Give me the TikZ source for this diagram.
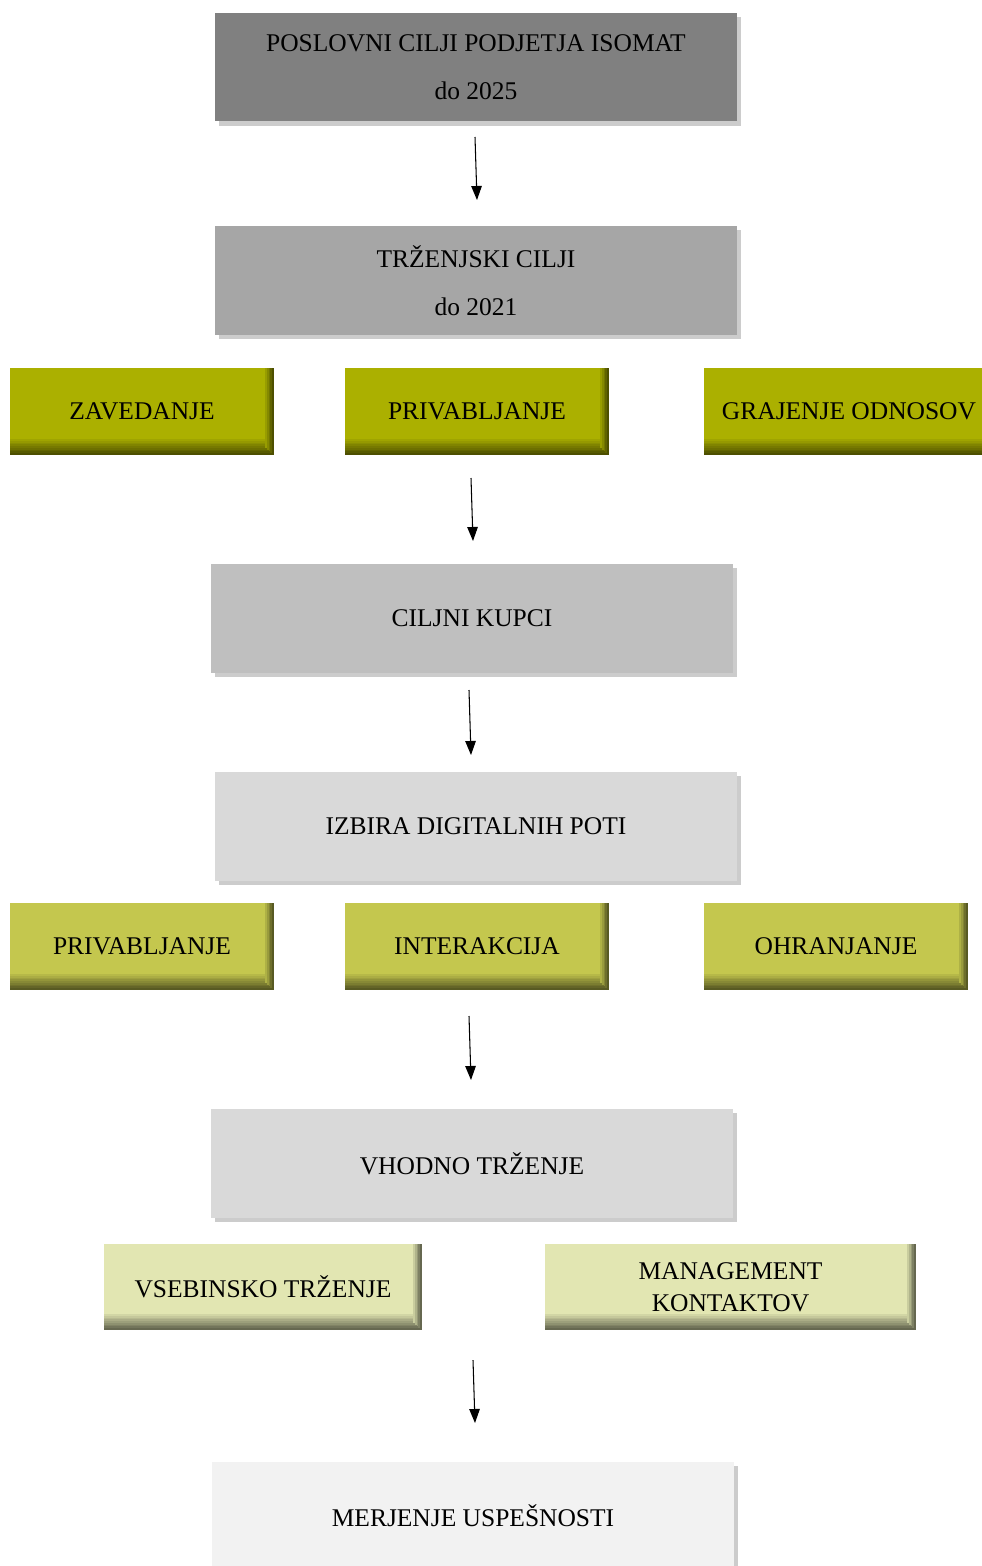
\documentclass[tikz,border=0pt]{standalone}
\usepackage{fontspec}
\setmainfont{Liberation Serif}
\usepackage{xcolor}
\usepackage{tikz}
\usetikzlibrary{positioning,shadows,arrows.meta}
\definecolor{olivedark}{RGB}{171,176,0}
\definecolor{olivemid}{RGB}{196,199,78}
\definecolor{olivelight}{RGB}{226,230,178}
\tikzset{
    box/.style={rectangle, inner sep=0pt, align=center, text=black, font=\fontsize{14.5}{18}\selectfont},
    graybox/.style={box, fill=#1, minimum width=10.44cm, minimum height=2.18cm,
        drop shadow={shadow xshift=2.5pt, shadow yshift=-2.5pt, opacity=0.4}},
    % bevel: darker steps along the bottom and the right edge
    bevelbox/.style={box, fill=#1, minimum height=1.74cm,
        path picture={
            \foreach \k [evaluate=\k as \p using int(45+6*(\k-1))] in {1,...,9}
                \fill[#1!\p!black] ([yshift=\k pt]path picture bounding box.south west)
                    rectangle ([yshift=\k pt-1pt]path picture bounding box.south east);
            \foreach \k [evaluate=\k as \p using int(45+11*(\k-1))] in {1,...,5}
                \fill[#1!\p!black] ([xshift=-\k pt]path picture bounding box.north east)
                    rectangle ([xshift=-\k pt+1pt, yshift=\k pt-1pt]path picture bounding box.south east);
        }},
    flow/.style={-{Triangle[width=6pt,length=8pt]}, line width=0.6pt, black}
}

\begin{document}
\begin{tikzpicture}[x=0.02cm, y=0.02cm]
    \useasboundingbox (0,0) rectangle (982,-1566);

    % main column
    \node[graybox=black!50] (goal) at (476,-67) {POSLOVNI CILJI PODJETJA ISOMAT\\[9pt] do 2025};
    \node[graybox=black!35] (mktgoal) at (476,-280.5) {TRŽENJSKI CILJI\\[9pt] do 2021};
    \node[graybox=black!25] (buyers) at (472,-618.5) {CILJNI KUPCI};
    \node[graybox=black!15] (paths) at (476,-826.5) {IZBIRA DIGITALNIH POTI};
    \node[graybox=black!15] (inbound) at (472,-1163.5) {VHODNO TRŽENJE};
    \node[graybox=black!5] (measure) at (473,-1516) {MERJENJE USPEŠNOSTI};

    % first row of aims
    \node[bevelbox=olivedark, minimum width=5.28cm] (seduce) at (142,-411.5) {ZAVEDANJE};
    \node[bevelbox=olivedark, minimum width=5.28cm] (attractA) at (477,-411.5) {PRIVABLJANJE};
    \node[bevelbox=olivedark, minimum width=5.8cm] (relations) at (849,-411.5) {GRAJENJE ODNOSOV};

    % second row of aims
    \node[bevelbox=olivemid, minimum width=5.28cm] (attractB) at (142,-946.5) {PRIVABLJANJE};
    \node[bevelbox=olivemid, minimum width=5.28cm] (interact) at (477,-946.5) {INTERAKCIJA};
    \node[bevelbox=olivemid, minimum width=5.28cm] (retain) at (836,-946.5) {OHRANJANJE};

    % inbound tools
    \node[bevelbox=olivelight, minimum width=6.36cm, minimum height=1.72cm] (content) at (263,-1287) {VSEBINSKO TRŽENJE};
    \node[bevelbox=olivelight, minimum width=7.42cm, minimum height=1.72cm] (contacts) at (730.5,-1287) {MANAGEMENT\\ KONTAKTOV};

    % arrows
    \coordinate (a1) at (475,-137);  \coordinate (b1) at (477,-200);
    \coordinate (a2) at (471,-478);  \coordinate (b2) at (473,-541);
    \coordinate (a3) at (469,-690);  \coordinate (b3) at (471,-755);
    \coordinate (a4) at (469,-1016); \coordinate (b4) at (471,-1080);
    \coordinate (a5) at (473,-1360); \coordinate (b5) at (475,-1423);
    \foreach \i in {1,...,5}
        \draw[flow] (a\i) -- (b\i);

\end{tikzpicture}
\end{document}
